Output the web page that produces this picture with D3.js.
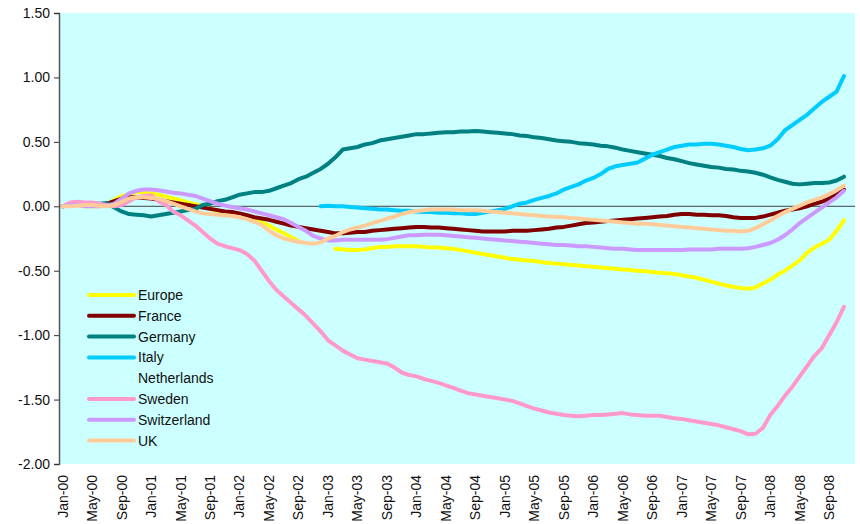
<!DOCTYPE html>
<html>
<head>
<meta charset="utf-8">
<script src="https://cdn.jsdelivr.net/npm/d3@7/dist/d3.min.js"></script>
<style>
  html, body { margin: 0; padding: 0; background: #ffffff; }
  svg { display: block; font-family: "Liberation Sans", Arial, sans-serif; }
</style>
</head>
<body>
<svg id="chart" width="860" height="524"></svg>
<script>
// Monthly categories Jan-00 .. Dec-08
const months = d3.timeMonth.range(new Date(2000, 0, 1), new Date(2009, 0, 1));
const monthLabel = d3.timeFormat("%b-%y");

const yTicks = [1.5, 1.0, 0.5, 0.0, -0.5, -1.0, -1.5, -2.0];

// One value per month, one row per year
const europe = [
  0.00, 0.01, 0.01, 0.00, 0.00, 0.00, 0.01, 0.05, 0.08, 0.09, 0.11, 0.11,
  0.10, 0.09, 0.075, 0.06, 0.045, 0.03, 0.015, 0.00, -0.02, -0.035, -0.05, -0.065,
  -0.08, -0.095, -0.11, -0.125, -0.15, -0.18, -0.21, -0.24, -0.27, null, null, null,
  null, -0.33, -0.335, -0.34, -0.34, -0.335, -0.325, -0.315, -0.315, -0.31, -0.31, -0.31,
  -0.31, -0.315, -0.32, -0.32, -0.325, -0.33, -0.34, -0.35, -0.36, -0.37, -0.38, -0.39,
  -0.40, -0.41, -0.415, -0.42, -0.425, -0.435, -0.44, -0.445, -0.45, -0.455, -0.46, -0.465,
  -0.47, -0.475, -0.48, -0.485, -0.49, -0.495, -0.50, -0.505, -0.51, -0.515, -0.52, -0.525,
  -0.535, -0.545, -0.555, -0.57, -0.585, -0.60, -0.615, -0.625, -0.635, -0.64, -0.63, -0.60,
  -0.57, -0.53, -0.50, -0.46, -0.42, -0.36, -0.32, -0.29, -0.26, -0.19, -0.11, null
];

const france = [
  0.00, 0.01, 0.02, 0.02, 0.01, 0.01, 0.02, 0.04, 0.06, 0.07, 0.07, 0.065,
  0.06, 0.05, 0.04, 0.03, 0.02, 0.01, 0.00, -0.01, -0.02, -0.03, -0.04, -0.045,
  -0.055, -0.07, -0.085, -0.095, -0.105, -0.12, -0.135, -0.15, -0.16, -0.17, -0.18, -0.19,
  -0.20, -0.21, -0.21, -0.205, -0.20, -0.20, -0.19, -0.185, -0.18, -0.175, -0.17, -0.165,
  -0.16, -0.16, -0.165, -0.165, -0.17, -0.175, -0.18, -0.185, -0.19, -0.195, -0.195, -0.195,
  -0.195, -0.19, -0.19, -0.19, -0.185, -0.18, -0.175, -0.165, -0.16, -0.15, -0.14, -0.13,
  -0.125, -0.12, -0.115, -0.11, -0.105, -0.10, -0.095, -0.09, -0.085, -0.08, -0.075, -0.065,
  -0.06, -0.06, -0.065, -0.065, -0.07, -0.07, -0.075, -0.085, -0.09, -0.09, -0.09, -0.08,
  -0.065, -0.05, -0.035, -0.025, -0.015, 0.00, 0.02, 0.035, 0.06, 0.09, 0.13, null
];

const germany = [
  0.00, 0.01, 0.02, 0.01, 0.02, 0.02, 0.025, -0.01, -0.04, -0.06, -0.065, -0.07,
  -0.08, -0.07, -0.06, -0.05, -0.04, -0.03, -0.02, 0.01, 0.02, 0.04, 0.05, 0.07,
  0.09, 0.10, 0.11, 0.11, 0.12, 0.14, 0.16, 0.18, 0.21, 0.23, 0.26, 0.29,
  0.33, 0.38, 0.44, 0.45, 0.46, 0.48, 0.49, 0.51, 0.52, 0.53, 0.54, 0.55,
  0.56, 0.56, 0.565, 0.57, 0.575, 0.575, 0.58, 0.58, 0.585, 0.58, 0.575, 0.57,
  0.565, 0.56, 0.55, 0.545, 0.535, 0.53, 0.52, 0.51, 0.505, 0.50, 0.49, 0.485,
  0.48, 0.47, 0.465, 0.455, 0.44, 0.43, 0.42, 0.41, 0.40, 0.39, 0.375, 0.365,
  0.35, 0.335, 0.325, 0.315, 0.305, 0.30, 0.29, 0.285, 0.275, 0.27, 0.26, 0.245,
  0.225, 0.205, 0.19, 0.175, 0.17, 0.175, 0.18, 0.18, 0.185, 0.20, 0.23, null
];

const italy = [
  null, null, null, null, null, null, null, null, null, null, null, null,
  null, null, null, null, null, null, null, null, null, null, null, null,
  null, null, null, null, null, null, null, null, null, null, null, 0.00,
  0.005, 0.00, 0.00, -0.005, -0.01, -0.015, -0.02, -0.025, -0.025, -0.03, -0.035, -0.035,
  -0.04, -0.045, -0.045, -0.05, -0.05, -0.055, -0.055, -0.06, -0.06, -0.05, -0.04, -0.03,
  -0.02, 0.00, 0.02, 0.03, 0.05, 0.065, 0.08, 0.10, 0.13, 0.15, 0.17, 0.20,
  0.22, 0.25, 0.29, 0.31, 0.32, 0.33, 0.34, 0.37, 0.40, 0.42, 0.44, 0.46,
  0.47, 0.48, 0.48, 0.485, 0.485, 0.48, 0.47, 0.46, 0.445, 0.435, 0.44, 0.45,
  0.47, 0.52, 0.59, 0.63, 0.67, 0.71, 0.76, 0.81, 0.85, 0.89, 1.01, null
];

// No Netherlands figures are available
const netherlands = [];

const sweden = [
  0.00, 0.03, 0.035, 0.03, 0.03, 0.02, 0.01, 0.00, 0.01, 0.04, 0.07, 0.08,
  0.085, 0.04, 0.01, -0.04, -0.07, -0.11, -0.15, -0.20, -0.25, -0.29, -0.31, -0.325,
  -0.34, -0.37, -0.42, -0.50, -0.58, -0.65, -0.70, -0.75, -0.80, -0.85, -0.91, -0.97,
  -1.04, -1.08, -1.12, -1.15, -1.18, -1.19, -1.20, -1.21, -1.22, -1.25, -1.29, -1.31,
  -1.32, -1.34, -1.355, -1.37, -1.39, -1.41, -1.43, -1.45, -1.46, -1.47, -1.48, -1.49,
  -1.50, -1.51, -1.53, -1.55, -1.57, -1.585, -1.60, -1.61, -1.62, -1.625, -1.63, -1.625,
  -1.62, -1.62, -1.615, -1.61, -1.605, -1.615, -1.62, -1.625, -1.625, -1.625, -1.635, -1.645,
  -1.65, -1.66, -1.67, -1.68, -1.69, -1.70, -1.715, -1.73, -1.745, -1.77, -1.765, -1.72,
  -1.62, -1.55, -1.47, -1.40, -1.32, -1.24, -1.16, -1.10, -1.00, -0.90, -0.78, null
];

const switzerland = [
  0.00, 0.01, 0.01, 0.00, 0.00, 0.00, 0.005, 0.02, 0.06, 0.10, 0.12, 0.13,
  0.13, 0.125, 0.115, 0.105, 0.10, 0.09, 0.08, 0.06, 0.04, 0.02, 0.005, -0.005,
  -0.015, -0.025, -0.04, -0.055, -0.07, -0.085, -0.10, -0.13, -0.16, -0.19, -0.23, -0.25,
  -0.265, -0.265, -0.26, -0.26, -0.26, -0.26, -0.26, -0.26, -0.255, -0.245, -0.235, -0.225,
  -0.225, -0.22, -0.22, -0.22, -0.225, -0.23, -0.235, -0.24, -0.245, -0.25, -0.255, -0.26,
  -0.265, -0.27, -0.275, -0.28, -0.285, -0.29, -0.295, -0.30, -0.30, -0.305, -0.31, -0.31,
  -0.315, -0.32, -0.325, -0.33, -0.33, -0.335, -0.34, -0.34, -0.34, -0.34, -0.34, -0.34,
  -0.34, -0.335, -0.335, -0.335, -0.335, -0.33, -0.33, -0.33, -0.33, -0.325, -0.315, -0.30,
  -0.285, -0.26, -0.225, -0.18, -0.13, -0.09, -0.05, -0.01, 0.03, 0.07, 0.12, null
];

const uk = [
  0.00, 0.00, 0.005, 0.01, 0.01, 0.005, 0.00, 0.01, 0.035, 0.06, 0.07, 0.07,
  0.065, 0.06, 0.04, 0.02, 0.00, -0.02, -0.04, -0.055, -0.06, -0.065, -0.07, -0.075,
  -0.085, -0.10, -0.12, -0.145, -0.19, -0.225, -0.25, -0.265, -0.275, -0.285, -0.29, -0.28,
  -0.25, -0.23, -0.20, -0.18, -0.165, -0.15, -0.13, -0.115, -0.095, -0.08, -0.06, -0.045,
  -0.037, -0.03, -0.025, -0.025, -0.025, -0.025, -0.03, -0.03, -0.03, -0.035, -0.04, -0.045,
  -0.05, -0.055, -0.06, -0.065, -0.07, -0.075, -0.08, -0.083, -0.085, -0.09, -0.095, -0.10,
  -0.105, -0.11, -0.115, -0.12, -0.125, -0.13, -0.135, -0.135, -0.14, -0.145, -0.15, -0.155,
  -0.16, -0.165, -0.17, -0.175, -0.18, -0.185, -0.19, -0.19, -0.195, -0.19, -0.17, -0.14,
  -0.11, -0.075, -0.045, -0.02, 0.005, 0.03, 0.05, 0.07, 0.095, 0.125, 0.16, null
];

const seriesNames = ["Europe", "France", "Germany", "Italy", "Netherlands", "Sweden", "Switzerland", "UK"];
const seriesValues = [europe, france, germany, italy, netherlands, sweden, switzerland, uk];
const seriesColors = ["#ffff00", "#800000", "#008080", "#00ccff", "none", "#ff99cc", "#cc99ff", "#ffcc99"];

const svg = d3.select("#chart");
const plot = { left: 59, right: 855, top: 13, bottom: 464 };

const x = d3.scaleBand()
  .domain(months.map(d => monthLabel(d)))
  .range([plot.left, plot.right])
  .padding(0);

const y = d3.scaleLinear()
  .domain([-2, 1.5])
  .range([plot.bottom, plot.top]);

// Two-decimal labels with a plain hyphen as the minus sign
const numberLocale = d3.formatLocale({ decimal: ".", thousands: ",", grouping: [3], currency: ["", ""], minus: "-" });
const fmt2 = numberLocale.format(".2f");

// Plot background
svg.append("rect")
  .attr("x", plot.left)
  .attr("y", plot.top)
  .attr("width", plot.right - plot.left)
  .attr("height", plot.bottom - plot.top)
  .attr("fill", "#ccffff");

// Value axis
const yAxis = d3.axisLeft(y)
  .tickValues(yTicks)
  .tickFormat(fmt2)
  .tickSize(5)
  .tickPadding(4);

const gy = svg.append("g")
  .attr("transform", `translate(${plot.left},0)`)
  .call(yAxis);
gy.select(".domain").attr("stroke", "#555").attr("stroke-width", 1.5);
gy.selectAll(".tick line").attr("stroke", "#333");
gy.selectAll(".tick text")
  .attr("fill", "#111")
  .style("font-size", "14px")
  .style("font-family", "'Liberation Sans', Arial, sans-serif");

// Category axis line crossing at zero
svg.append("line")
  .attr("x1", plot.left)
  .attr("x2", plot.right)
  .attr("y1", y(0))
  .attr("y2", y(0))
  .attr("stroke", "#404040")
  .attr("stroke-width", 1);

// Category labels every fourth month, set below the plot
const xAxis = d3.axisBottom(x)
  .tickValues(months.filter((d, i) => i % 4 === 0).map(d => monthLabel(d)))
  .tickSize(0)
  .tickPadding(0);

const gx = svg.append("g")
  .attr("transform", `translate(0,${plot.bottom + 11})`)
  .call(xAxis);
gx.select(".domain").remove();
gx.selectAll(".tick text")
  .attr("fill", "#111")
  .attr("transform", "rotate(-90)")
  .attr("text-anchor", "end")
  .attr("x", 0)
  .attr("y", 0)
  .attr("dy", "0.35em")
  .style("font-size", "14px")
  .style("font-family", "'Liberation Sans', Arial, sans-serif");

// Series lines
const line = d3.line()
  .defined(d => d.v !== null)
  .x(d => x(d.m) + x.bandwidth() / 2)
  .y(d => y(d.v));

seriesNames.forEach((name, k) => {
  const vals = seriesValues[k];
  if (!vals.length || seriesColors[k] === "none") return;
  const pts = vals.map((v, i) => ({ m: monthLabel(months[i]), v: v }));
  svg.append("path")
    .datum(pts)
    .attr("fill", "none")
    .attr("stroke", seriesColors[k])
    .attr("stroke-width", 4)
    .attr("stroke-linejoin", "round")
    .attr("stroke-linecap", "round")
    .attr("d", line);
});

// Legend
const legend = svg.append("g").attr("transform", "translate(88,295)");
seriesNames.forEach((name, k) => {
  const row = legend.append("g").attr("transform", `translate(0,${k * 20.8})`);
  if (seriesColors[k] !== "none") {
    row.append("line")
      .attr("x1", 1).attr("x2", 46)
      .attr("y1", 0).attr("y2", 0)
      .attr("stroke", seriesColors[k])
      .attr("stroke-width", 4)
      .attr("stroke-linecap", "round");
  }
  row.append("text")
    .attr("x", 50)
    .attr("y", 0)
    .attr("dy", "0.36em")
    .attr("fill", "#111")
    .style("font-size", "14px")
    .text(name);
});
</script>
</body>
</html>
